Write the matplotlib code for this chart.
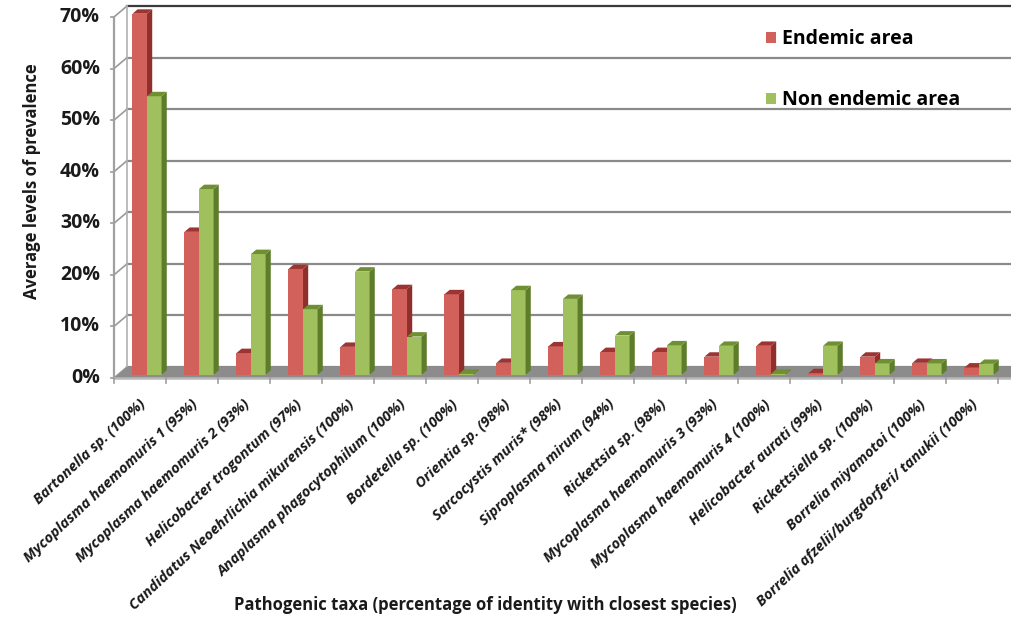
import matplotlib
matplotlib.use("Agg")
import matplotlib.pyplot as plt
from matplotlib.patches import Polygon, Patch
from matplotlib.transforms import blended_transform_factory, ScaledTranslation

taxa = [
    "Bartonella sp. (100%)",
    "Mycoplasma haemomuris 1 (95%)",
    "Mycoplasma haemomuris 2 (93%)",
    "Helicobacter trogontum (97%)",
    "Candidatus Neoehrlichia mikurensis (100%)",
    "Anaplasma phagocytophilum (100%)",
    "Bordetella sp. (100%)",
    "Orientia sp. (98%)",
    "Sarcocystis muris* (98%)",
    "Siproplasma mirum (94%)",
    "Rickettsia sp. (98%)",
    "Mycoplasma haemomuris 3 (93%)",
    "Mycoplasma haemomuris 4 (100%)",
    "Helicobacter aurati (99%)",
    "Rickettsiella sp. (100%)",
    "Borrelia miyamotoi (100%)",
    "Borrelia afzelii/burgdorferi/ tanukii (100%)",
]
endemic = [70.0, 27.7, 4.2, 20.5, 5.4, 16.6, 15.6, 2.3, 5.5, 4.4, 4.4,
           3.5, 5.6, 0.3, 3.5, 2.3, 1.4]
non_endemic = [54.0, 36.0, 23.4, 12.7, 20.0, 7.4, 0.2, 16.4, 14.7, 7.6, 5.7,
               5.6, 0.2, 5.6, 2.2, 2.2, 2.1]
yticks = [0, 10, 20, 30, 40, 50, 60, 70]

FONT = ["Open Sans", "DejaVu Sans"]
RED, RED_SIDE, RED_TOP = "#d2615b", "#8e2f2b", "#9c3531"
GREEN, GREEN_SIDE, GREEN_TOP = "#9fc05c", "#5e7d2b", "#6f8f33"

W, H = 1011, 622
fig = plt.figure(figsize=(W / 100, H / 100), dpi=100)

# axes box in pixels (front plane)
L, R, TOP, BOT = 114, 1011, 17, 378
CAT_PX = 52
ax = fig.add_axes([L / W, (H - BOT) / H, (R - L) / W, (BOT - TOP) / H])
xmax = -0.5 + (R - L) / CAT_PX
ax.set_xlim(-0.5, xmax)
ax.set_ylim(0, 70)
ax.axis("off")

PX_X = CAT_PX               # px per category
PX_Y = (BOT - TOP) / 70.0   # px per percent
DX, DY = 13 / PX_X, 11 / PX_Y   # depth of the floor / walls

# back wall gridlines and left wall
for v in yticks:
    col = "#3a3a3a" if v == 70 else "#8a8a8a"
    ax.plot([-0.5 + DX, xmax + 1], [v + DY, v + DY], color=col, lw=1.6,
            clip_on=False, zorder=1)
    ax.plot([-0.5, -0.5 + DX], [v, v + DY], color="#9a9a9a", lw=1.2,
            clip_on=False, zorder=1)
    ax.plot([-0.5 - 0.05, -0.5], [v, v], color="#9a9a9a", lw=1.2,
            clip_on=False, zorder=1)
ax.plot([-0.5 + DX, -0.5 + DX], [DY, 70 + DY], color="#b0b0b0", lw=1.2,
        clip_on=False, zorder=1)
ax.plot([-0.5, -0.5], [0, 70], color="#a0a0a0", lw=1.6, clip_on=False,
        zorder=2)

# floor
ax.add_patch(Polygon([(-0.5, 0), (xmax + 1, 0), (xmax + 1 + DX, DY),
                      (-0.5 + DX, DY)], closed=True, facecolor="#8c8c8c",
                     edgecolor="none", clip_on=False, zorder=1.5))
ax.plot([-0.5, xmax + 1], [0, 0], color="#b8b8b8", lw=1.8, clip_on=False,
        zorder=1.6)
for k in range(len(taxa) + 1):
    ax.plot([k - 0.5, k - 0.5], [0, -1.0], color="#a0a0a0", lw=1.2,
            clip_on=False, zorder=1.6)

# bars with side and top faces
bw = 0.28
d0, d1 = 0.3 * DX, 0.7 * DX
e0, e1 = 0.3 * DY, 0.7 * DY
x = list(range(len(taxa)))
series = [(endemic, -0.22, RED, RED_SIDE, RED_TOP, "Endemic area"),
          (non_endemic, 0.06, GREEN, GREEN_SIDE, GREEN_TOP, "Non endemic area")]
for vals, off, fc, sc, tc, lab in series:
    lefts = [i + off + d0 for i in x]
    bars = ax.bar(lefts, vals, width=bw, bottom=e0, align="edge", color=fc,
                  edgecolor="none", zorder=3, label=lab)
    for b in bars:
        b.set_clip_on(False)
    for lx, v in zip(lefts, vals):
        rx = lx + bw
        ax.add_patch(Polygon([(rx, e0), (rx, v + e0),
                              (rx + d1 - d0, v + e1), (rx + d1 - d0, e1)],
                             closed=True, facecolor=sc, edgecolor="none",
                             clip_on=False, zorder=3))
        ax.add_patch(Polygon([(lx, v + e0), (rx, v + e0),
                              (rx + d1 - d0, v + e1), (lx + d1 - d0, v + e1)],
                             closed=True, facecolor=tc, edgecolor="none",
                             clip_on=False, zorder=3))

# y tick labels
for v in yticks:
    ax.text(-0.5 - 0.27, v, f"{v}%", ha="right", va="center", fontsize=14,
            fontweight="bold", family=FONT, color="#1a1a1a")

# rotated category labels
trans = blended_transform_factory(ax.transData, ax.transAxes) + \
    ScaledTranslation(4 / 100, -24 / 100, fig.dpi_scale_trans)
for i, name in enumerate(taxa):
    ax.text(i, 0, name, transform=trans, rotation=43, rotation_mode="anchor",
            ha="right", va="center", fontsize=10.5, fontweight="bold",
            fontstyle="italic", family=FONT, color="#1a1a1a")

fig.text(32 / W, 1 - 181 / H, "Average levels of prevalence", rotation=90,
         ha="center", va="center", fontsize=12, fontweight="bold",
         family=FONT, color="#1a1a1a")
fig.text(485 / W, 1 - 605 / H,
         "Pathogenic taxa (percentage of identity with closest species)",
         ha="center", va="center", fontsize=12, fontweight="bold",
         family=FONT, color="#1a1a1a")

handles = [Patch(facecolor=RED, edgecolor="none"),
           Patch(facecolor=GREEN, edgecolor="none")]
fig.legend(handles, ["Endemic area", "Non endemic area"],
           loc="upper left", bbox_to_anchor=(748 / W, 1 - 12 / H),
           frameon=False, handlelength=0.55, handleheight=0.55,
           handletextpad=0.3, labelspacing=2.1,
           prop={"family": FONT, "weight": "bold", "size": 14})

fig.savefig("out.png", dpi=100, facecolor="white")
